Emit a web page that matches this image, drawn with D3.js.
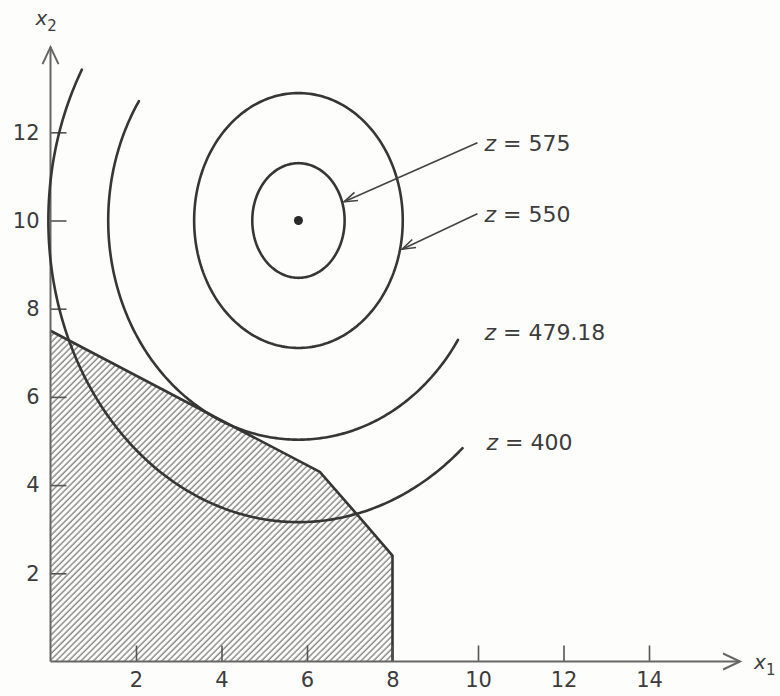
<!DOCTYPE html>
<html>
<head>
<meta charset="utf-8">
<script src="https://cdn.jsdelivr.net/npm/d3@7/dist/d3.min.js"></script>
<style>
  html, body { margin: 0; padding: 0; background: #fdfdfb; }
  svg { display: block; }
  text { font-family: "DejaVu Sans", sans-serif; fill: #3c3c3c; }
</style>
</head>
<body>
<svg id="chart" width="780" height="696"></svg>
<script>
// Axis ticks
const xTicks = [2, 4, 6, 8, 10, 12, 14];
const yTicks = [2, 4, 6, 8, 10, 12];

// Feasible region (vertices, in x1 / x2 units)
const regionX1 = [0, 0, 6.3, 7.2, 8, 8];
const regionX2 = [0, 7.5, 4.3, 3.3, 2.4, 0];

// Unconstrained optimum
const optimumX1 = 5.8;
const optimumX2 = 10;

// Objective contours: level, ellipse semi-axes, drawn parameter range (degrees)
const zLevels = ["575", "550", "479.18", "400"];
const semiAxisX1 = [1.08, 2.44, 4.45, 5.85];
const semiAxisX2 = [1.30, 2.89, 4.97, 6.84];
const arcStartDeg = [0, 0, 147, 150];
const arcEndDeg = [360, 360, 327, 311];

// Pointer arrows from the labels to the closed contours (parameter angle on the ellipse)
const pointerLevels = ["575", "550"];
const pointerAngleDeg = [19, -13];

// Label anchors (x1 / x2 units, baseline)
const labelX1 = [10.15, 10.15, 10.15, 10.2];
const labelX2 = [11.58, 9.97, 7.29, 4.80];

const svg = d3.select("#chart");
const ink = "#363636";

const xs = d3.scaleLinear().domain([0, 16]).range([50.5, 50.5 + 16 * 42.75]);
const ys = d3.scaleLinear().domain([0, 14]).range([661.5, 661.5 - 14 * 44.1]);

// Hatching for the feasible region
const defs = svg.append("defs");
defs.append("pattern")
  .attr("id", "hatch")
  .attr("patternUnits", "userSpaceOnUse")
  .attr("width", 4.4)
  .attr("height", 4.4)
  .attr("patternTransform", "rotate(45)")
  .append("line")
  .attr("x1", 1).attr("y1", 0)
  .attr("x2", 1).attr("y2", 4.4)
  .attr("stroke", "#666")
  .attr("stroke-width", 1.1);

const region = d3.zip(regionX1, regionX2);
svg.append("path")
  .attr("d", d3.line().x(d => xs(d[0])).y(d => ys(d[1]))(region) + "Z")
  .attr("fill", "url(#hatch)")
  .attr("stroke", "none");
// Boundary of the region (the axes sides are drawn by the axes)
svg.append("path")
  .attr("d", d3.line().x(d => xs(d[0])).y(d => ys(d[1]))(region.slice(1)))
  .attr("fill", "none")
  .attr("stroke", ink)
  .attr("stroke-width", 2.6)
  .attr("stroke-linejoin", "round");

// Axes with inward ticks
const xAxis = svg.append("g")
  .attr("transform", `translate(0,${ys(0)})`)
  .call(d3.axisBottom(xs).tickValues(xTicks).tickSizeInner(-16).tickSizeOuter(0).tickPadding(11).tickFormat(d3.format("d")));
const yAxis = svg.append("g")
  .attr("transform", `translate(${xs(0)},0)`)
  .call(d3.axisLeft(ys).tickValues(yTicks).tickSizeInner(-16).tickSizeOuter(0).tickPadding(11).tickFormat(d3.format("d")));
[xAxis, yAxis].forEach(g => {
  g.select(".domain").remove();
  g.selectAll(".tick line").attr("stroke", "#555").attr("stroke-width", 1.6);
  g.selectAll(".tick text")
    .style("font-family", "DejaVu Sans, sans-serif")
    .style("font-size", "21px")
    .attr("fill", "#3c3c3c");
});

// Axis lines with open arrowheads
const axisStroke = "#666";
const xTip = [xs(16.13), ys(0)];
const yTip = [xs(0), ys(13.93)];
svg.append("line").attr("x1", xs(0)).attr("y1", ys(0)).attr("x2", xTip[0]).attr("y2", xTip[1])
  .attr("stroke", axisStroke).attr("stroke-width", 2);
svg.append("line").attr("x1", xs(0)).attr("y1", ys(0)).attr("x2", yTip[0]).attr("y2", yTip[1])
  .attr("stroke", axisStroke).attr("stroke-width", 2);
svg.append("path")
  .attr("d", `M${xTip[0] - 17},${xTip[1] - 8}L${xTip[0]},${xTip[1]}L${xTip[0] - 17},${xTip[1] + 8}`)
  .attr("fill", "none").attr("stroke", axisStroke).attr("stroke-width", 2);
svg.append("path")
  .attr("d", `M${yTip[0] - 8},${yTip[1] + 17}L${yTip[0]},${yTip[1]}L${yTip[0] + 8},${yTip[1] + 17}`)
  .attr("fill", "none").attr("stroke", axisStroke).attr("stroke-width", 2);

// Axis names
const xName = svg.append("text").attr("x", xTip[0] + 14).attr("y", xTip[1] + 7).style("font-size", "20px");
xName.append("tspan").style("font-style", "italic").text("x");
xName.append("tspan").attr("dy", 6).style("font-size", "15px").text("1");
const yName = svg.append("text").attr("x", yTip[0] - 15).attr("y", yTip[1] - 22).style("font-size", "20px");
yName.append("tspan").style("font-style", "italic").text("x");
yName.append("tspan").attr("dy", 6).style("font-size", "15px").text("2");

// Objective contours (ellipses about the optimum)
const toRad = Math.PI / 180;
function ellipsePoint(i, deg) {
  const t = deg * toRad;
  return [optimumX1 + semiAxisX1[i] * Math.cos(t), optimumX2 + semiAxisX2[i] * Math.sin(t)];
}
const contourLine = d3.line().x(d => xs(d[0])).y(d => ys(d[1])).curve(d3.curveLinear);
zLevels.forEach((lvl, i) => {
  const steps = 240;
  const pts = d3.range(steps + 1).map(k =>
    ellipsePoint(i, arcStartDeg[i] + (arcEndDeg[i] - arcStartDeg[i]) * k / steps));
  svg.append("path")
    .attr("d", contourLine(pts))
    .attr("fill", "none")
    .attr("stroke", ink)
    .attr("stroke-width", 2.6)
    .attr("stroke-linecap", "round");
});

// Optimum point
svg.append("circle")
  .attr("cx", xs(optimumX1)).attr("cy", ys(optimumX2))
  .attr("r", 4.5).attr("fill", "#2a2a2a");

// Level labels
zLevels.forEach((lvl, i) => {
  const t = svg.append("text")
    .attr("x", xs(labelX1[i]))
    .attr("y", ys(labelX2[i]))
    .style("font-size", "22px");
  t.append("tspan").style("font-style", "italic").text("z");
  t.append("tspan").text(" = " + lvl);
});

// Pointer arrows
pointerLevels.forEach((lvl, j) => {
  const i = zLevels.indexOf(lvl);
  const tipD = ellipsePoint(i, pointerAngleDeg[j]);
  const tip = [xs(tipD[0]) + 2, ys(tipD[1])];
  const tail = [xs(labelX1[i]) - 7, ys(labelX2[i]) - 8];
  svg.append("line")
    .attr("x1", tail[0]).attr("y1", tail[1]).attr("x2", tip[0]).attr("y2", tip[1])
    .attr("stroke", "#444").attr("stroke-width", 1.6);
  const ang = Math.atan2(tail[1] - tip[1], tail[0] - tip[0]);
  const len = 14, spread = 0.32;
  const w1 = [tip[0] + len * Math.cos(ang + spread), tip[1] + len * Math.sin(ang + spread)];
  const w2 = [tip[0] + len * Math.cos(ang - spread), tip[1] + len * Math.sin(ang - spread)];
  svg.append("path")
    .attr("d", `M${w1[0]},${w1[1]}L${tip[0]},${tip[1]}L${w2[0]},${w2[1]}`)
    .attr("fill", "none").attr("stroke", "#444").attr("stroke-width", 1.6);
});
</script>
</body>
</html>
